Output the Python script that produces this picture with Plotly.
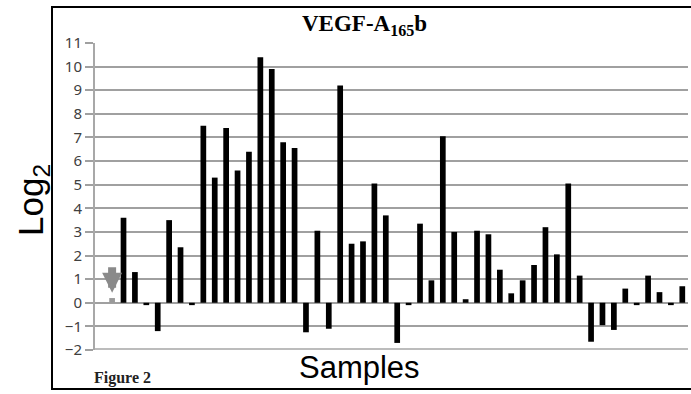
import plotly.graph_objects as go

samples = list(range(51))
values = [0.2, 3.6, 1.3, -0.1, -1.2, 3.5, 2.35, -0.1, 7.5, 5.3,
          7.4, 5.6, 6.4, 10.4, 9.9, 6.8, 6.55, -1.25, 3.05, -1.1,
          9.2, 2.5, 2.6, 5.05, 3.7, -1.7, -0.1, 3.35, 0.95, 7.05,
          3.0, 0.15, 3.05, 2.9, 1.4, 0.4, 0.95, 1.6, 3.2, 2.05,
          5.05, 1.15, -1.65, -0.95, -1.15, 0.6, -0.1, 1.15, 0.45, -0.1,
          0.7]
bar_colors = ["#9a9a9a"] + ["#000000"] * 50
y_ticks = list(range(-2, 12))

W, H = 691, 394
L, R, T, B = 95, 3, 43, 44
pw, ph = W - L - R, H - T - B


def px(x):
    return (x - L) / pw


def py(y):
    return (H - B - y) / ph


fig = go.Figure()
fig.add_trace(go.Bar(x=samples, y=values, width=0.5,
                     marker=dict(color=bar_colors, line=dict(width=0)),
                     hoverinfo="skip"))

fig.update_layout(
    template="none",
    width=W, height=H,
    margin=dict(l=L, r=R, t=T, b=B),
    paper_bgcolor="white", plot_bgcolor="rgba(0,0,0,0)",
    showlegend=False,
    xaxis=dict(range=[-1.5, 50.5], showticklabels=False, showgrid=False,
               zeroline=False, ticks="", showline=False),
    yaxis=dict(range=[-2, 11], tickvals=y_ticks, ticks="outside", ticklen=8,
               tickcolor="#a0a0a0", tickwidth=1.5,
               showgrid=True, gridcolor="#a0a0a0", gridwidth=2,
               zeroline=True, zerolinecolor="#a0a0a0", zerolinewidth=2,
               showline=True, linecolor="#a8a8a8", linewidth=2,
               tickfont=dict(family="Noto Sans", size=15, color="#404040")),
    shapes=[
        dict(type="rect", xref="paper", yref="paper",
             x0=px(52), x1=px(705), y0=py(389), y1=py(7),
             fillcolor="rgba(0,0,0,0)",
             line=dict(color="black", width=2), layer="above"),
        dict(type="line", xref="paper", yref="y", x0=0, x1=1, y0=-2, y1=-2,
             line=dict(color="#bcbcbc", width=4), layer="above"),
    ],
    annotations=[
        dict(text="<b>VEGF-A<sub>165</sub>b</b>", xref="paper", yref="paper",
             x=px(364), y=py(25), showarrow=False, xanchor="center", yanchor="middle",
             font=dict(family="Liberation Serif", size=23, color="black")),
        dict(text="Samples", xref="paper", yref="paper",
             x=px(359), y=py(367), showarrow=False, xanchor="center", yanchor="middle",
             font=dict(family="Liberation Sans", size=31, color="black")),
        dict(text="<b>Figure 2</b>", xref="paper", yref="paper",
             x=px(92), y=py(378), showarrow=False, xanchor="left", yanchor="middle",
             font=dict(family="Liberation Serif", size=16, color="#222222")),
        dict(text="Log<sub>2</sub>", xref="paper", yref="paper",
             x=px(33), y=py(200), showarrow=False, xanchor="center", yanchor="middle",
             textangle=-90,
             font=dict(family="Liberation Sans", size=35, color="black")),
        dict(x=samples[0], y=0.42, xref="x", yref="y", ax=0, ay=-27,
             text="", showarrow=True, arrowhead=2, arrowsize=0.5, arrowwidth=8,
             arrowcolor="#8a8a8a"),
    ],
)

fig.write_html("out.html")
